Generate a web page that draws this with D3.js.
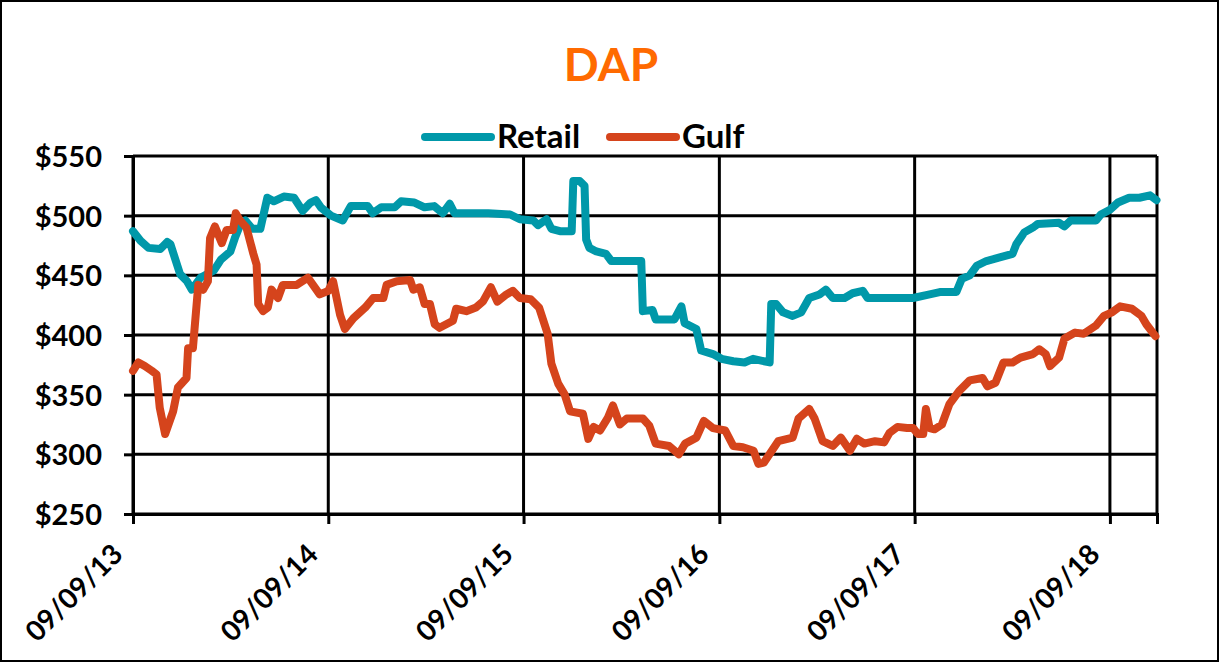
<!DOCTYPE html>
<html>
<head>
<meta charset="utf-8">
<script src="https://cdnjs.cloudflare.com/ajax/libs/d3/7.8.5/d3.min.js"></script>
<style>
  body { margin: 0; background: #fff; }
  svg text { font-family: Lato, "Open Sans", sans-serif; font-weight: bold; }
</style>
</head>
<body>
<svg id="chart" width="1220" height="663"></svg>
<script>
// ---- data ----
var retailDates = ["2013-09-09","2013-09-23","2013-10-08","2013-10-30","2013-11-12","2013-11-18","2013-12-06","2013-12-19","2013-12-28",
  "2014-01-13","2014-02-07","2014-02-20","2014-03-10","2014-03-19","2014-03-29","2014-04-07","2014-04-20","2014-05-05","2014-05-18",
  "2014-05-30","2014-06-18","2014-07-07","2014-07-23","2014-08-07","2014-08-17","2014-08-26","2014-09-14","2014-10-06","2014-10-21",
  "2014-11-22","2014-12-01","2014-12-17","2015-01-11","2015-01-23","2015-02-17","2015-03-08","2015-03-26","2015-04-11","2015-04-24",
  "2015-05-03","2015-07-05","2015-08-15","2015-09-02","2015-09-27","2015-10-06","2015-10-22","2015-10-31","2015-11-16","2015-12-08",
  "2015-12-11","2015-12-23","2016-01-01","2016-01-04","2016-01-10","2016-01-23","2016-02-10","2016-02-20","2016-04-16","2016-04-19",
  "2016-05-07","2016-05-13","2016-06-17","2016-06-30","2016-07-06","2016-07-28","2016-08-06","2016-08-28","2016-09-13","2016-10-05",
  "2016-10-26","2016-11-11","2016-12-12","2016-12-15","2016-12-24","2017-01-06","2017-01-24","2017-02-09","2017-02-24","2017-03-15",
  "2017-03-27","2017-04-09","2017-05-01","2017-05-16","2017-06-04","2017-06-13","2017-09-06","2017-10-07","2017-10-26","2017-11-26",
  "2017-12-06","2017-12-21","2018-01-03","2018-01-21","2018-02-15","2018-03-11","2018-03-18","2018-04-02","2018-04-18","2018-04-27",
  "2018-06-06","2018-06-16","2018-06-28","2018-08-14","2018-08-23","2018-09-09","2018-09-24","2018-10-15","2018-11-03","2018-11-23",
  "2018-12-05"];
var retailValues = [487,479,473,472,478,476,451,445,438,
  448,454,463,470,482,493,496,489,489,515,
  512,516,515,504,511,513,507,500,496,508,
  508,502,507,507,512,511,507,508,502,510,
  502,502,501,497,496,492,497,489,487,487,
  529,529,525,480,473,470,468,462,462,420,
  421,413,413,424,410,405,387,384,380,378,
  377,380,377,426,426,419,416,419,431,434,
  438,431,431,435,437,431,431,434,436,436,
  447,450,458,462,465,468,476,486,490,493,
  494,491,496,496,501,505,511,515,515,517,
  513];

var gulfDates = ["2013-09-09","2013-09-19","2013-10-01","2013-10-14","2013-10-23","2013-10-29","2013-11-08","2013-11-23","2013-12-02",
  "2013-12-18","2013-12-21","2013-12-30","2014-01-09","2014-01-18","2014-01-27","2014-01-31","2014-02-09","2014-02-22","2014-03-03",
  "2014-03-15","2014-03-20","2014-03-28","2014-04-09","2014-04-22","2014-04-28","2014-05-01","2014-05-10","2014-05-19","2014-05-26",
  "2014-06-07","2014-06-16","2014-07-12","2014-08-02","2014-08-24","2014-09-09","2014-09-18","2014-10-01","2014-10-10","2014-10-26",
  "2014-11-17","2014-12-02","2014-12-21","2014-12-27","2015-01-15","2015-02-09","2015-02-15","2015-02-27","2015-03-08","2015-03-18",
  "2015-03-27","2015-04-05","2015-04-30","2015-05-06","2015-05-25","2015-06-12","2015-06-25","2015-07-10","2015-07-22","2015-08-08",
  "2015-08-20","2015-09-02","2015-09-22","2015-10-08","2015-10-24","2015-10-31","2015-11-13","2015-11-25","2015-12-05","2015-12-29",
  "2016-01-08","2016-01-18","2016-01-30","2016-02-14","2016-02-23","2016-03-07","2016-03-20","2016-04-19","2016-05-01","2016-05-13",
  "2016-06-07","2016-06-25","2016-07-07","2016-07-28","2016-08-11","2016-08-28","2016-09-20","2016-10-05","2016-10-23","2016-11-12",
  "2016-11-21","2016-12-01","2016-12-28","2017-01-24","2017-02-04","2017-02-24","2017-03-06","2017-03-21","2017-04-09","2017-04-24",
  "2017-05-11","2017-05-24","2017-06-07","2017-06-27","2017-07-14","2017-07-24","2017-08-08","2017-08-26","2017-09-06","2017-09-15",
  "2017-09-25","2017-09-30","2017-10-07","2017-10-16","2017-10-30","2017-11-13","2017-12-01","2017-12-21","2018-01-14","2018-01-23",
  "2018-02-07","2018-02-22","2018-03-11","2018-03-26","2018-04-18","2018-04-30","2018-05-12","2018-05-20","2018-06-06","2018-06-16",
  "2018-07-06","2018-07-22","2018-08-14","2018-08-29","2018-09-13","2018-09-28","2018-10-20","2018-11-07","2018-11-16","2018-12-03"];
var gulfValues = [370,377,374,370,367,339,317,336,356,
  364,389,389,442,438,445,481,491,477,488,
  488,502,496,490,468,459,426,420,423,438,
  431,442,442,448,434,437,445,417,405,414,
  423,431,431,442,445,446,438,440,426,426,
  409,406,412,422,420,423,428,440,428,434,
  437,431,430,423,401,376,359,350,336,334,
  313,323,320,331,341,325,330,330,324,309,
  307,300,309,314,328,322,320,307,306,303,
  292,293,311,314,330,338,330,311,307,314,
  303,313,309,311,310,318,323,322,322,317,
  317,338,322,321,325,342,353,362,364,357,
  360,377,377,381,384,388,384,374,381,397,
  402,401,408,416,419,424,422,416,409,399];

var yTicks = [250, 300, 350, 400, 450, 500, 550];
var xTickDates = ["2013-09-09","2014-09-09","2015-09-09","2016-09-09","2017-09-09","2018-09-09"];
var xDomain = ["2013-09-09", "2018-12-06"];
var seriesNames = ["Retail", "Gulf"];
var seriesColors = ["#0098A9", "#D5441C"];

// ---- layout ----
var parse = d3.timeParse("%Y-%m-%d");
var fmt = d3.timeFormat("%m/%d/%y");
var plotLeft = 133, plotRight = 1157, plotTop = 156, plotBottom = 514;

var svg = d3.select("#chart");

// outer frame
svg.append("rect")
    .attr("x", 1).attr("y", 1)
    .attr("width", 1217).attr("height", 660)
    .style("fill", "none")
    .style("stroke", "#000")
    .style("stroke-width", 2);

var x = d3.scaleTime()
    .domain(xDomain.map(parse))
    .range([plotLeft, plotRight]);

var y = d3.scaleLinear()
    .domain([250, 550])
    .range([plotBottom, plotTop]);

// grid lines
svg.append("g")
    .selectAll("line")
    .data(yTicks)
    .join("line")
    .attr("x1", plotLeft).attr("x2", plotRight)
    .attr("y1", d => y(d)).attr("y2", d => y(d))
    .style("stroke", "#000").style("stroke-width", 3);

svg.append("g")
    .selectAll("line")
    .data(xTickDates.map(parse))
    .join("line")
    .attr("x1", d => x(d)).attr("x2", d => x(d))
    .attr("y1", plotTop).attr("y2", plotBottom)
    .style("stroke", "#000").style("stroke-width", 3);

// right border of plot
svg.append("line")
    .attr("x1", plotRight).attr("x2", plotRight)
    .attr("y1", plotTop).attr("y2", plotBottom)
    .style("stroke", "#000").style("stroke-width", 3);

// y axis
var yAxis = svg.append("g")
    .attr("transform", "translate(" + plotLeft + ",0)")
    .call(d3.axisLeft(y).tickValues(yTicks).tickSize(9).tickPadding(22).tickFormat(d => "$" + d));
yAxis.select(".domain").style("stroke", "#000").style("stroke-width", 3);
yAxis.selectAll(".tick line").style("stroke", "#000").style("stroke-width", 3);
yAxis.selectAll("text")
    .style("font-size", "29px")
    .style("fill", "#000")
    .attr("dy", "0.36em");

// x axis
var xAxis = svg.append("g")
    .attr("transform", "translate(0," + plotBottom + ")")
    .call(d3.axisBottom(x).tickValues(xTickDates.map(parse)).tickSize(10).tickFormat(fmt));
xAxis.select(".domain").style("stroke", "#000").style("stroke-width", 3);
xAxis.selectAll(".tick line").style("stroke", "#000").style("stroke-width", 3);
xAxis.selectAll("text")
    .style("font-size", "28px")
    .style("fill", "#000")
    .style("text-anchor", "end")
    .attr("dy", null)
    .attr("y", 0)
    .attr("transform", "translate(-9,42) rotate(-45)");

// lines
var line = d3.line()
    .x(d => x(d.date))
    .y(d => y(d.value));

var retail = retailDates.map((d, i) => ({ date: parse(d), value: retailValues[i] }));
var gulf = gulfDates.map((d, i) => ({ date: parse(d), value: gulfValues[i] }));

[retail, gulf].forEach(function (series, i) {
    svg.append("path")
        .datum(series)
        .attr("d", line)
        .style("fill", "none")
        .style("stroke", seriesColors[i])
        .style("stroke-width", 8)
        .style("stroke-linejoin", "round")
        .style("stroke-linecap", "round");
});

// title
svg.append("text")
    .attr("x", 611)
    .attr("y", 81)
    .attr("text-anchor", "middle")
    .style("font-size", "46px")
    .style("fill", "#FF6A00")
    .text("DAP");

// legend
var legendX = [425, 610];
seriesNames.forEach(function (name, i) {
    svg.append("line")
        .attr("x1", legendX[i]).attr("x2", legendX[i] + 66)
        .attr("y1", 137).attr("y2", 137)
        .style("stroke", seriesColors[i])
        .style("stroke-width", 8)
        .style("stroke-linecap", "round");
    svg.append("text")
        .attr("x", legendX[i] + 72)
        .attr("y", 148)
        .style("font-size", "33px")
        .style("fill", "#000")
        .text(name);
});
</script>
</body>
</html>
